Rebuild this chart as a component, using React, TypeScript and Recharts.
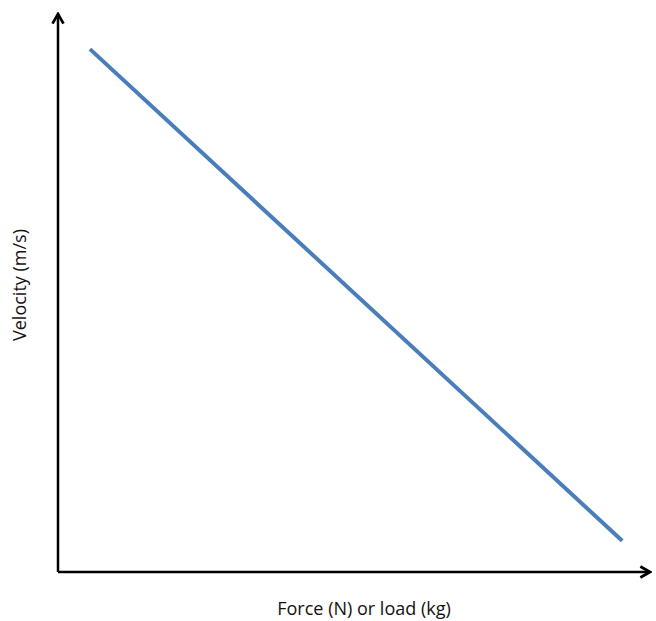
import React from 'react';
import { LineChart, Line, XAxis, YAxis, Customized, Label } from 'recharts';

const forceValues = [5.4, 95.3];
const velocityValues = [93.7, 5.6];
const xAxisTitle = 'Force (N) or load (kg)';
const yAxisTitle = 'Velocity (m/s)';

const data = forceValues.map((f, i) => ({ force: f, velocity: velocityValues[i] }));

const Defs = () => (
  <defs>
    <marker id="arrowHead" viewBox="0 0 10 10" refX="8.5" refY="5" markerWidth="5.5" markerHeight="5.5" orient="auto-start-reverse" markerUnits="strokeWidth">
      <path d="M1.5,1 L8.5,5 L1.5,9" fill="none" stroke="#000" strokeWidth="2" strokeLinejoin="miter" />
    </marker>
  </defs>
);

export default function App() {
  return (
    <div style={{ position: 'absolute', left: 0, top: 0, background: '#fff' }}>
      <LineChart width={656} height={621} data={data} margin={{ top: 14, right: 6, left: 0, bottom: 0 }}>
        <Customized component={Defs} />
        <XAxis
          type="number"
          dataKey="force"
          domain={[0, 100]}
          height={49}
          tick={false}
          tickLine={false}
          axisLine={{ stroke: '#000', strokeWidth: 2.5, markerEnd: 'url(#arrowHead)' }}
        >
          <Label
            content={({ viewBox }: any) => (
              <text x={viewBox.x + viewBox.width / 2 + 10} y={viewBox.y + 43} textAnchor="middle" fontFamily="Open Sans" fontSize={18} fill="#111">
                {xAxisTitle}
              </text>
            )}
          />
        </XAxis>
        <YAxis
          type="number"
          domain={[0, 100]}
          width={58}
          tick={false}
          tickLine={false}
          axisLine={{ stroke: '#000', strokeWidth: 2.5, markerStart: 'url(#arrowHead)' }}
        >
          <Label
            content={({ viewBox }: any) => {
              const cx = 26;
              const cy = viewBox.y + viewBox.height / 2 - 8;
              return (
                <text x={cx} y={cy} transform={`rotate(-90, ${cx}, ${cy})`} textAnchor="middle" fontFamily="Open Sans" fontSize={18} fill="#111">
                  {yAxisTitle}
                </text>
              );
            }}
          />
        </YAxis>
        <Line type="linear" dataKey="velocity" stroke="#4a7ebb" strokeWidth={4} dot={false} isAnimationActive={false} />
      </LineChart>
    </div>
  );
}
